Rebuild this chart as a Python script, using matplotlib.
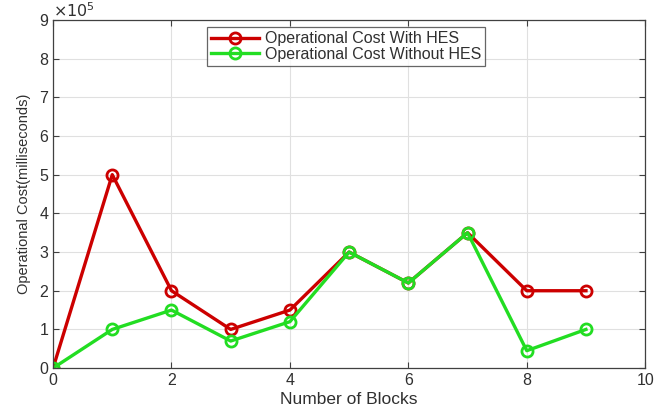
import matplotlib
matplotlib.use("Agg")
import matplotlib.pyplot as plt

plt.rcParams['font.family'] = ['Liberation Sans', 'DejaVu Sans']

blocks = [0, 1, 2, 3, 4, 5, 6, 7, 8, 9]
cost_with_hes = [0, 5, 2, 1, 1.5, 3, 2.2, 3.5, 2, 2]
cost_without_hes = [0, 1, 1.5, 0.7, 1.2, 3, 2.2, 3.5, 0.45, 1]
x_ticks = [0, 2, 4, 6, 8, 10]
y_ticks = [0, 1, 2, 3, 4, 5, 6, 7, 8, 9]

axis_color = '#404040'
text_color = '#303030'

fig = plt.figure(figsize=(6.55, 4.15), dpi=100)
ax = fig.add_axes([0.081, 0.113, 0.904, 0.839])

ax.plot(blocks, cost_with_hes, color='#cc0000', lw=2.4, marker='o', ms=8,
        mfc='none', mew=2.0, label='Operational Cost With HES')
ax.plot(blocks, cost_without_hes, color='#22dd22', lw=2.4, marker='o', ms=8,
        mfc='none', mew=2.0, label='Operational Cost Without HES')

ax.set_xlim(0, 10)
ax.set_ylim(0, 9)
ax.set_xticks(x_ticks)
ax.set_yticks(y_ticks)
ax.grid(True, color='#e0e0e0', lw=0.8)
ax.set_axisbelow(True)
ax.tick_params(direction='in', length=4, colors=axis_color, labelsize=11.5,
               top=True, right=True, labelcolor=text_color)
for s in ax.spines.values():
    s.set_color(axis_color)
    s.set_linewidth(0.9)

ax.set_xlabel('Number of Blocks', fontsize=12.5, color=text_color, labelpad=3)
ax.set_ylabel('Operational Cost(milliseconds)', fontsize=10.5, color=text_color,
              labelpad=6)
ax.text(0.0, 1.0, r'$\times10^{5}$', transform=ax.transAxes, fontsize=11.5,
        color=text_color, ha='left', va='bottom')

leg = ax.legend(loc='upper center', bbox_to_anchor=(0.495, 0.988), fontsize=11.5,
                frameon=True, fancybox=False, edgecolor=axis_color,
                handlelength=3.0, borderpad=0.25, labelspacing=0.05,
                handletextpad=0.4, borderaxespad=0.2)
leg.get_frame().set_linewidth(0.9)
for t in leg.get_texts():
    t.set_color(text_color)

fig.savefig('out.png', dpi=100)
